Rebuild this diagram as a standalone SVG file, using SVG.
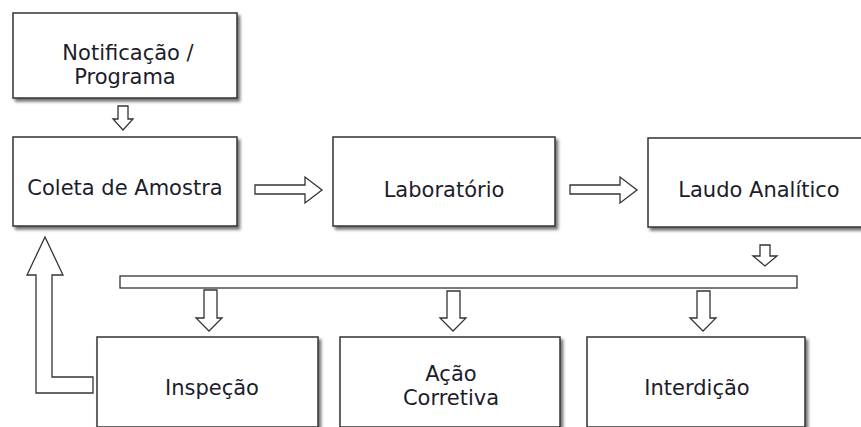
<svg xmlns="http://www.w3.org/2000/svg" width="861" height="427" viewBox="0 0 861 427">
<style>
.box{fill:#fff;stroke:#333;stroke-width:1.5;filter:url(#sh)}
.arr{fill:#fff;stroke:#333;stroke-width:1.3;stroke-linejoin:miter}
.t{font-family:"DejaVu Sans",Verdana,sans-serif;font-size:21px;fill:#1c1c2a;text-anchor:middle}
</style>
<defs>
<filter id="sh" x="-10%" y="-10%" width="120%" height="130%">
<feDropShadow dx="2.5" dy="3" stdDeviation="1.5" flood-color="#000" flood-opacity="0.55"/>
</filter>
</defs>
<rect width="861" height="427" fill="#fff"/>
<g id="notificacao"><rect class="box" x="13" y="13" width="224" height="85"/><text class="t" x="128" y="60">Notificação /</text><text class="t" x="125" y="84">Programa</text></g>
<g id="coleta"><rect class="box" x="13" y="137" width="224" height="89"/><text class="t" x="125" y="195">Coleta de Amostra</text></g>
<g id="laboratorio"><rect class="box" x="333" y="137" width="222" height="89"/><text class="t" x="444" y="197">Laboratório</text></g>
<g id="laudo"><rect class="box" x="648" y="138" width="215" height="89"/><text class="t" x="759" y="197">Laudo Analítico</text></g>
<g id="barra"><rect class="arr" x="120" y="276" width="677" height="12"/></g>
<g id="inspecao"><rect class="box" x="97" y="337" width="221" height="90"/><text class="t" x="212" y="395">Inspeção</text></g>
<g id="acao"><rect class="box" x="340" y="337" width="220" height="90"/><text class="t" x="451" y="381">Ação</text><text class="t" x="451" y="405">Corretiva</text></g>
<g id="interdicao"><rect class="box" x="587" y="337" width="218" height="90"/><text class="t" x="697" y="395">Interdição</text></g>
<g id="connectors">
<polygon class="arr" points="118,106 128,106 128,119 133,119 123,130 113,119 118,119"/>
<polygon class="arr" points="255,185 305,185 305,177 322,190 305,203 305,194 255,194"/>
<polygon class="arr" points="570,185 620,185 620,177 637,190 620,203 620,194 570,194"/>
<polygon class="arr" points="760,245 770,245 770,256 777,256 765,266 753,256 760,256"/>
<polygon class="arr" points="204,290 217,290 217,318 222,318 209,331 196,318 204,318"/>
<polygon class="arr" points="447,291 460,291 460,318 466,318 453,331 440,318 447,318"/>
<polygon class="arr" points="697,291 710,291 710,318 716,318 703,331 690,318 697,318"/>
<polygon class="arr" points="45,237 63,275 52,275 52,377 93,377 93,393 36,393 36,275 27,275"/>
</g>
</svg>
